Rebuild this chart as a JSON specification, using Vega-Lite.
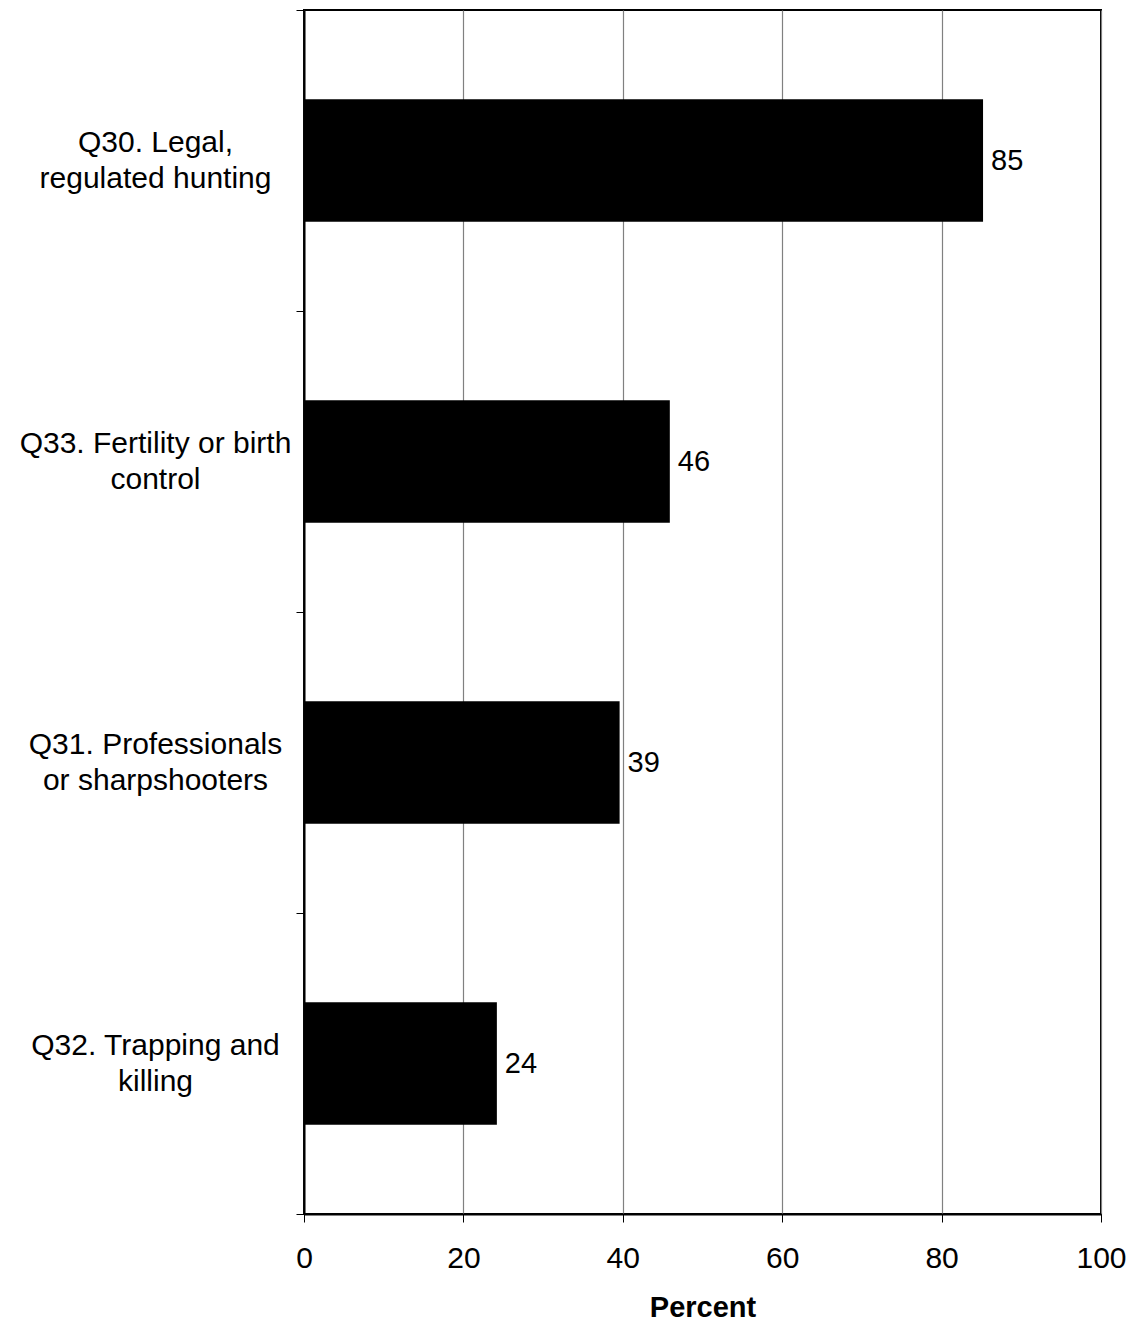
{
  "$schema": "https://vega.github.io/schema/vega-lite/v6.json",
  "autosize": {"type": "none"},
  "padding": {"left": 304, "top": 10, "right": 30, "bottom": 107},
  "width": 797,
  "height": 1204,
  "background": "white",
  "config": {
    "font": "Liberation Sans",
    "view": {"stroke": "black", "strokeWidth": 2}
  },
  "data": {
    "values": [
      {"item": "Q30. Legal,|regulated hunting", "pct": 85.2, "label": "85"},
      {"item": "Q33. Fertility or birth|control", "pct": 45.9, "label": "46"},
      {"item": "Q31. Professionals|or sharpshooters", "pct": 39.6, "label": "39"},
      {"item": "Q32. Trapping and|killing", "pct": 24.2, "label": "24"}
    ]
  },
  "encoding": {
    "x": {
      "field": "pct",
      "type": "quantitative",
      "scale": {"domain": [0, 100], "nice": false},
      "axis": {
        "title": "Percent",
        "titleFont": "Liberation Sans",
        "titleFontSize": 29,
        "titleFontWeight": "bold",
        "titleColor": "black",
        "titlePadding": 20,
        "values": [0, 20, 40, 60, 80, 100],
        "labelFont": "Liberation Sans",
        "labelFontSize": 30,
        "labelColor": "black",
        "labelPadding": 21,
        "labelFlush": false,
        "tickColor": "black",
        "tickSize": 8,
        "domainColor": "black",
        "domainWidth": 2,
        "grid": true,
        "gridColor": "#808080",
        "gridWidth": 1.2
      }
    }
  },
  "layer": [
    {
      "mark": {"type": "bar", "color": "black"},
      "encoding": {
        "y": {
          "field": "item",
          "type": "nominal",
          "sort": null,
          "scale": {"paddingInner": 0.593, "paddingOuter": 0.2965},
          "axis": null
        }
      }
    },
    {
      "mark": {"type": "text", "align": "left", "baseline": "middle", "dx": 8, "fontSize": 29, "font": "Liberation Sans", "color": "black"},
      "encoding": {
        "text": {"field": "label"},
        "y": {
          "field": "item",
          "type": "nominal",
          "sort": null,
          "scale": {"paddingInner": 0, "paddingOuter": 0},
          "axis": {
            "title": null,
            "labelExpr": "split(datum.label, '|')",
            "labelFont": "Liberation Sans",
            "labelFontSize": 30,
            "labelColor": "black",
            "labelAlign": "center",
            "labelBaseline": "middle",
            "labelLineHeight": 36,
            "labelOffset": -18,
            "labelPadding": 141,
            "labelLimit": 400,
            "tickBand": "extent",
            "tickColor": "black",
            "tickSize": 8,
            "domainColor": "black",
            "domainWidth": 2,
            "grid": false,
            "encode": {
              "labels": {
                "update": {
                  "dx": {"signal": "indexof(datum.value, 'Q30') == 0 ? 11 : (indexof(datum.value, 'Q33') == 0 ? -8 : 0)"}
                }
              }
            }
          }
        }
      }
    }
  ],
  "resolve": {"scale": {"y": "independent"}, "axis": {"y": "independent"}}
}
